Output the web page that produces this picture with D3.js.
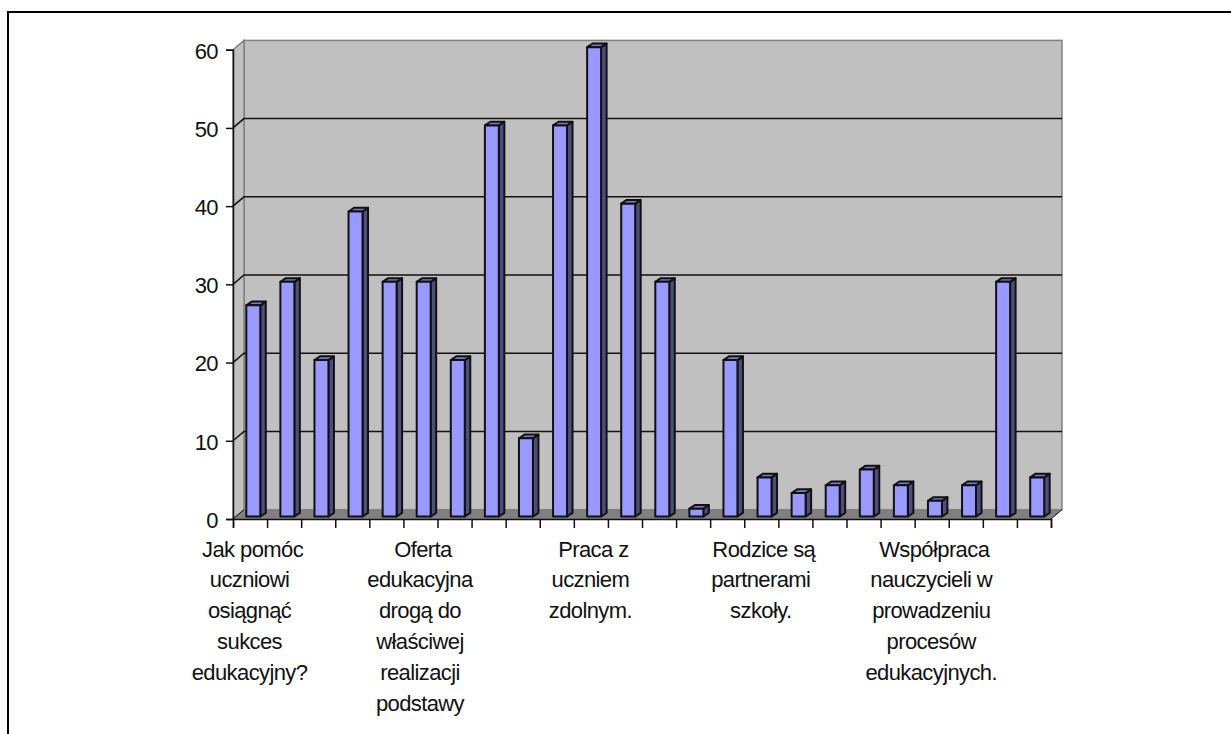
<!DOCTYPE html>
<html>
<head>
<meta charset="utf-8">
<script src="https://cdn.jsdelivr.net/npm/d3@7"></script>
<style>
    body { margin: 0; background: #fff; }
    svg { display: block; }
    text { font-family: "Liberation Sans", Arial, sans-serif; fill: #111; letter-spacing: -0.6px; }
</style>
</head>
<body>
<div id="chart"></div>
<script>
// Values, one bar per slot
const values = [27, 30, 20, 39, 30, 30, 20, 50, 10, 50, 60, 40, 30, 1, 20, 5, 3, 4, 6, 4, 2, 4, 30, 5];
const yTicks = [0, 10, 20, 30, 40, 50, 60];
// Only every fifth slot gets a label
const labelSlots = [0, 5, 10, 15, 20];
const categoryLabels = [
    ["Jak pomóc", "uczniowi", "osiągnąć", "sukces", "edukacyjny?"],
    ["Oferta", "edukacyjna", "drogą do", "właściwej", "realizacji", "podstawy"],
    ["Praca z", "uczniem", "zdolnym."],
    ["Rodzice są", "partnerami", "szkoły."],
    ["Współpraca", "nauczycieli w", "prowadzeniu", "procesów", "edukacyjnych."]
];

const width = 1231, height = 734;
const plot = { left: 233, right: 1051, top: 49.7, bottom: 519 };
// Offset of the back wall from the front plane
const depth = { x: 11, y: -9.3 };
// Offset of the little 3d box on each bar
const barDepth = { x: 5.5, y: -3.7 };

const svg = d3.select("#chart").append("svg")
    .attr("width", width)
    .attr("height", height);

// Page border, only top and left show in the crop
svg.append("path")
    .attr("d", `M8,${height}V12H${width}`)
    .attr("fill", "none")
    .attr("stroke", "#000")
    .attr("stroke-width", 2);

const xScale = d3.scaleBand()
    .domain(d3.range(values.length))
    .range([plot.left, plot.right]);
const yScale = d3.scaleLinear()
    .domain([0, 60])
    .range([plot.bottom, plot.top]);

const x0 = plot.left, x1 = plot.right;
const yTop = plot.top, yBase = plot.bottom;

// Back wall
svg.append("rect")
    .attr("x", x0 + depth.x)
    .attr("y", yTop + depth.y)
    .attr("width", x1 - x0)
    .attr("height", yBase - yTop)
    .attr("fill", "#c0c0c0")
    .attr("stroke", "#808080")
    .attr("stroke-width", 1.5);

// Side wall
svg.append("path")
    .attr("d", `M${x0},${yTop}L${x0 + depth.x},${yTop + depth.y}V${yBase + depth.y}L${x0},${yBase}Z`)
    .attr("fill", "#c0c0c0")
    .attr("stroke", "#808080")
    .attr("stroke-width", 1.5);

// Floor
svg.append("path")
    .attr("d", `M${x0},${yBase}L${x0 + depth.x},${yBase + depth.y}H${x1 + depth.x}L${x1},${yBase}Z`)
    .attr("fill", "#808080");

// Gridlines across back wall, slanted down the side wall
const grid = svg.append("g");
yTicks.filter(d => d > 0 && d < 60).forEach(d => {
    const y = yScale(d);
    grid.append("path")
        .attr("d", `M${x0},${y}L${x0 + depth.x},${y + depth.y}H${x1 + depth.x}`)
        .attr("fill", "none")
        .attr("stroke", "#111")
        .attr("stroke-width", 1.5);
});
// Corner lines on the floor
svg.append("path")
    .attr("d", `M${x0},${yBase}L${x0 + depth.x},${yBase + depth.y}`)
    .attr("stroke", "#111")
    .attr("stroke-width", 1);
svg.append("path")
    .attr("d", `M${x1},${yBase}L${x1 + depth.x},${yBase + depth.y}`)
    .attr("stroke", "#111")
    .attr("stroke-width", 1);

// Bars
const barWidth = xScale.bandwidth() * 0.41;
const barLeft = i => xScale(i) + xScale.bandwidth() * 0.39;
const barLift = 2.5;
const barBase = yBase - barLift;
const bars = svg.append("g")
    .attr("stroke", "#111")
    .attr("stroke-width", 2)
    .attr("stroke-linejoin", "round");

values.forEach((v, i) => {
    const left = barLeft(i);
    const right = left + barWidth;
    const top = yScale(v) - barLift;
    // side
    bars.append("path")
        .attr("d", `M${right},${top}L${right + barDepth.x},${top + barDepth.y}V${barBase + barDepth.y}L${right},${barBase}Z`)
        .attr("fill", "#4d4d80");
    // top
    bars.append("path")
        .attr("d", `M${left},${top}L${left + barDepth.x},${top + barDepth.y}H${right + barDepth.x}L${right},${top}Z`)
        .attr("fill", "#7a7acc");
    // front
    bars.append("rect")
        .attr("x", left)
        .attr("y", top)
        .attr("width", barWidth)
        .attr("height", barBase - top)
        .attr("fill", "#9999ff");
});

// Y axis
const yAxis = svg.append("g")
    .attr("transform", `translate(${x0},0)`)
    .call(d3.axisLeft(yScale).tickValues(yTicks).tickSize(7).tickPadding(8));
yAxis.selectAll("path, line").attr("stroke", "#111").attr("stroke-width", 1.5);
yAxis.selectAll("text")
    .attr("font-size", 22)
    .attr("dy", "0.38em")
    .style("font-family", '"Liberation Sans", Arial, sans-serif')
    .attr("fill", "#111");

// X axis, ticks sit on the slot edges so it gets its own linear scale
const edgeScale = d3.scaleLinear()
    .domain([0, values.length])
    .range([plot.left, plot.right]);
const xAxis = svg.append("g")
    .attr("transform", `translate(0,${yBase})`)
    .call(d3.axisBottom(edgeScale).tickValues(d3.range(values.length + 1)).tickSize(9).tickFormat(""));
xAxis.selectAll("path, line").attr("stroke", "#111").attr("stroke-width", 1.5);

// Category labels, wrapped by hand like the original
const labels = svg.append("g")
    .attr("text-anchor", "middle")
    .attr("font-size", 22);

labelSlots.forEach((slot, i) => {
    const cx = xScale(slot) + xScale.bandwidth() / 2 - 0.5;
    categoryLabels[i].forEach((line, j) => {
        labels.append("text")
            // first line sits a bit to the right in the original
            .attr("x", j === 0 ? cx + 3 : cx)
            .attr("y", 556.5 + j * 30.9)
            .text(line);
    });
});
</script>
</body>
</html>
